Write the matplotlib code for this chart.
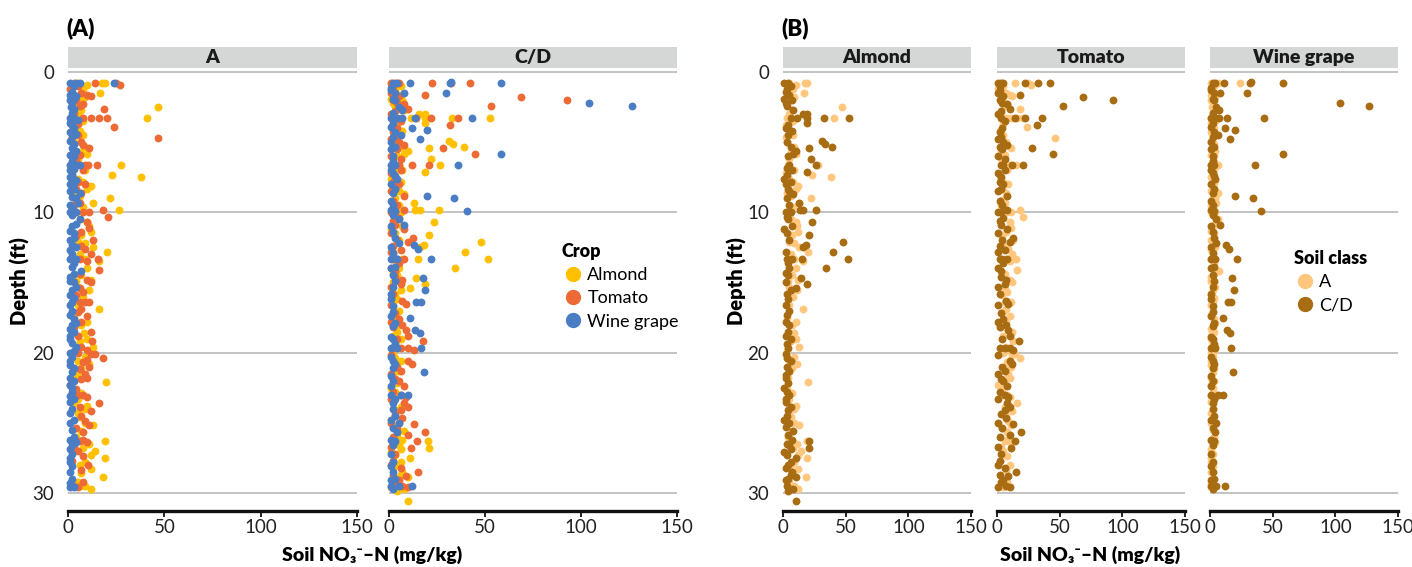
import matplotlib.pyplot as plt
from matplotlib.patches import Rectangle
from matplotlib.lines import Line2D
import numpy as np

plt.rcParams['font.family'] = ['Lato', 'DejaVu Sans']

# data: (depth in ft, soil NO3-N in mg/kg)
almond_a = [(0.8, 5), (0.8, 17.6), (0.8, 19.3), (0.9, 10), (1.5, 16.6), (1.6, 3), (1.8, 9), (2.1, 4),
            (2.5, 46.7), (2.7, 7), (3.3, 41), (3.3, 3), (3.5, 8), (4.2, 6), (4.6, 2), (5.0, 3), (5.3, 9),
            (5.7, 6), (6.2, 5), (6.6, 27.6), (6.9, 3), (7.2, 2), (7.3, 23), (7.5, 38), (7.6, 5), (7.8, 8),
            (8.1, 12), (8.3, 10), (8.6, 3), (9.0, 22), (9.3, 13), (9.8, 26.5), (10.5, 6), (10.7, 10),
            (11.0, 11), (11.4, 12), (12.1, 5), (12.5, 13), (12.8, 20), (13.3, 4), (13.3, 9), (13.5, 16),
            (14.5, 7), (14.8, 12), (15.3, 5), (15.5, 11), (16.9, 16), (17.5, 3), (18.0, 7), (18.6, 8.5),
            (19.0, 10), (19.6, 13), (20.3, 9), (20.6, 5), (21.1, 7), (21.8, 4), (22.1, 19.7), (22.6, 3),
            (23.3, 5), (23.8, 10), (24.3, 5), (24.6, 6), (25.0, 9), (25.2, 13), (26.0, 4), (26.3, 19),
            (26.5, 11), (26.8, 8), (27.0, 14), (27.3, 12), (27.5, 19), (28.0, 6), (28.3, 12), (28.6, 7),
            (28.9, 18), (29.2, 5), (29.5, 6), (29.7, 12),
            (1.2, 8), (2.0, 6), (3.0, 5), (3.8, 2), (4.5, 8), (5.8, 10), (6.6, 4), (7.0, 9), (8.0, 3),
            (8.8, 6), (9.6, 8), (10.0, 4), (11.6, 7), (12.2, 9), (13.0, 6), (14.0, 10), (14.9, 4),
            (16.0, 8), (16.6, 5), (17.8, 10), (19.2, 6), (19.9, 3), (20.8, 11), (21.4, 5), (22.9, 7),
            (23.6, 3), (24.0, 9), (25.6, 7), (27.8, 9), (29.5, 9)]

tomato_a = [(0.8, 3), (0.8, 14), (0.8, 25), (0.9, 27), (1.2, 1), (1.5, 7), (1.6, 10), (1.7, 12), (2.3, 8),
            (2.4, 6), (2.6, 18.5), (2.9, 3), (3.3, 8), (3.3, 12), (3.3, 16), (3.3, 20.5), (3.7, 5),
            (3.9, 24), (4.2, 2), (4.7, 46.5), (5.0, 7), (5.2, 8), (5.6, 3), (5.9, 6), (6.3, 4), (6.6, 9),
            (6.6, 10.5), (6.6, 15), (7.4, 2), (7.8, 5), (8.3, 4), (8.6, 7), (9.1, 4), (9.5, 3), (9.8, 18),
            (10.0, 8), (10.0, 11), (10.3, 21), (10.7, 10), (11.1, 11), (11.7, 4), (12.0, 13), (12.4, 7),
            (13.0, 12), (13.3, 6), (13.3, 15.5), (13.5, 10), (14.1, 16), (14.8, 10), (15.0, 12),
            (15.4, 6), (15.9, 4), (16.4, 6), (16.4, 9), (16.4, 11), (17.1, 5), (17.4, 10), (17.8, 7),
            (18.2, 3), (18.8, 5), (19.2, 12.5), (19.6, 7), (19.8, 10), (20.0, 5), (20.1, 12), (20.1, 14),
            (20.4, 18), (20.7, 8), (21.0, 11), (21.2, 6), (21.5, 9), (21.8, 10), (22.3, 1), (23.0, 5),
            (23.0, 8), (23.2, 10), (23.6, 16), (23.9, 6), (24.5, 7), (24.9, 9), (25.2, 11), (25.4, 4),
            (26.2, 8), (26.3, 6), (26.4, 10), (26.7, 3), (27.0, 5), (27.7, 2), (28.0, 10.5), (29.5, 3),
            (29.6, 5),
            (1.0, 5), (2.0, 4), (4.5, 5), (5.4, 11), (7.0, 8), (8.0, 9), (9.3, 6), (11.4, 7), (12.6, 9),
            (14.4, 6), (15.7, 8), (16.9, 7), (18.5, 12), (20.5, 10), (21.9, 7), (22.6, 4), (24.2, 12),
            (25.7, 8), (27.4, 8), (28.4, 7), (29.2, 8)]

wine_a = [(0.8, 1), (0.8, 4), (0.8, 6), (0.8, 24), (1.4, 2), (1.6, 1), (1.7, 4), (2.2, 2), (2.5, 1.5),
          (2.6, 3), (3.3, 1), (3.3, 3), (3.4, 5), (3.8, 2), (4.3, 1), (4.6, 2), (4.9, 1), (5.1, 3),
          (5.4, 2), (5.9, 1), (6.3, 2), (6.6, 1), (6.6, 4), (6.6, 6), (7.0, 1), (7.3, 2), (7.7, 4),
          (8.0, 1), (8.3, 3), (8.6, 6), (8.9, 2), (9.3, 5), (9.5, 1), (10.0, 1), (10.0, 4), (10.5, 6),
          (11.0, 2), (11.3, 1), (11.8, 3), (12.3, 2), (12.7, 1), (13.3, 1), (13.3, 4), (13.9, 2),
          (14.2, 7), (14.6, 1), (15.0, 3), (15.5, 2), (15.9, 1), (16.4, 2), (17.3, 1), (17.6, 3),
          (18.0, 2), (18.8, 1), (19.3, 2), (19.6, 4), (20.0, 1), (20.3, 2), (20.9, 1), (21.4, 2),
          (22.3, 1), (22.8, 2), (23.1, 1), (23.5, 1), (24.0, 2), (25.0, 1), (26.2, 1), (26.4, 4),
          (26.6, 2), (26.9, 1), (27.5, 1), (28.1, 2), (29.6, 1), (29.6, 3),
          (1.0, 3), (1.9, 3), (2.0, 1), (2.9, 2), (3.6, 1), (4.0, 3), (4.4, 4), (5.6, 4), (6.0, 3),
          (6.9, 3), (7.5, 1), (7.9, 3), (8.5, 1), (9.0, 4), (9.7, 2), (10.2, 2), (10.8, 4), (11.5, 3),
          (12.0, 1), (12.5, 4), (13.0, 2), (13.6, 3), (14.4, 3), (14.9, 1), (15.3, 4), (16.1, 3),
          (16.6, 1), (17.0, 2), (17.9, 4), (18.3, 1), (18.5, 3), (19.0, 1), (19.9, 3), (20.6, 1),
          (21.1, 3), (21.8, 1), (22.0, 3), (22.5, 2), (23.3, 3), (24.3, 1), (24.8, 3), (25.5, 2),
          (26.0, 3), (27.2, 2), (27.8, 1), (28.5, 1), (29.0, 2), (29.3, 1)]

almond_cd = [(0.8, 1), (0.8, 4), (1.4, 2), (1.9, 1), (2.4, 3), (3.0, 15.6), (3.0, 19), (3.3, 11.5),
             (3.3, 19), (3.3, 32.8), (3.3, 52.4), (3.6, 19), (4.0, 2), (4.5, 4), (4.9, 31), (5.1, 33.5),
             (5.3, 39), (5.4, 21), (5.6, 10), (5.8, 8), (6.2, 22), (6.6, 26.7), (6.8, 3), (7.1, 19),
             (7.6, 1), (8.0, 2), (8.5, 5), (9.3, 13), (9.8, 13.5), (9.8, 16), (9.8, 26), (10.3, 3),
             (10.7, 23.5), (11.2, 1), (11.6, 21), (12.1, 47.7), (12.3, 18), (12.5, 16), (12.8, 39.8),
             (13.3, 15), (13.3, 51.6), (13.6, 4), (14.0, 34.4), (14.3, 2), (14.7, 14), (15.1, 19),
             (15.4, 10.7), (15.8, 3), (17.0, 5), (17.8, 2), (18.5, 4), (19.4, 3), (20.1, 2), (20.6, 6),
             (21.0, 3), (21.8, 2), (22.5, 1), (22.8, 3), (23.5, 2), (24.1, 4), (24.8, 1), (25.6, 8),
             (26.3, 20.5), (26.5, 3), (26.8, 21), (26.9, 6), (27.1, 1), (27.5, 10.7), (28.0, 4),
             (28.7, 6), (29.1, 2), (29.9, 4), (30.6, 10),
             (1.0, 6), (1.2, 3), (1.6, 5), (2.0, 7), (2.2, 2), (2.7, 8), (3.3, 6), (3.8, 4), (4.2, 7),
             (5.0, 3), (5.3, 6), (6.0, 4), (6.6, 5), (7.0, 7), (7.3, 3), (7.8, 6), (8.3, 4), (8.7, 8),
             (9.0, 3), (9.5, 5), (10.0, 2), (10.0, 6), (10.5, 4), (11.0, 7), (11.5, 3), (12.0, 5),
             (12.8, 2), (13.3, 3), (13.3, 7), (14.0, 5), (14.5, 4), (15.0, 2), (15.5, 6), (16.2, 4),
             (16.6, 2), (17.3, 3), (18.0, 5), (18.8, 2), (19.0, 6), (19.7, 4), (20.4, 3), (21.3, 5),
             (21.6, 2), (22.2, 4), (23.0, 5), (23.3, 2), (23.9, 6), (24.5, 3), (25.0, 5), (25.3, 2),
             (25.9, 4), (26.2, 7), (26.6, 5), (27.3, 3), (27.8, 6), (28.2, 2), (28.5, 7), (29.0, 4),
             (29.5, 3), (29.7, 8), (28.9, 10)]

tomato_cd = [(0.8, 1), (0.8, 3), (0.8, 5), (0.8, 22.5), (0.8, 32.5), (0.8, 42), (1.3, 2), (1.6, 18.6),
             (1.8, 69), (2.0, 92.7), (2.2, 4), (2.3, 8), (2.4, 53), (2.6, 10), (2.8, 3), (3.3, 22),
             (3.3, 36), (3.5, 6), (3.8, 32), (4.3, 2), (4.6, 3), (5.0, 5), (5.2, 8), (5.4, 28), (5.5, 4),
             (5.8, 44.6), (6.2, 6), (6.6, 12), (6.6, 21), (7.0, 6), (7.5, 3), (8.0, 5), (8.8, 8),
             (9.2, 2), (9.8, 8), (10.4, 5), (10.9, 3), (11.2, 8), (11.8, 12.5), (12.1, 10), (12.4, 2),
             (12.7, 6), (13.3, 8), (13.6, 5), (14.2, 3), (14.8, 7), (15.1, 6), (16.3, 7), (16.5, 9),
             (17.6, 5), (18.0, 7), (18.4, 9), (18.8, 10), (19.2, 17.7), (19.7, 6), (19.7, 10), (19.8, 13),
             (20.6, 10), (20.8, 12), (21.3, 6), (21.9, 3), (22.4, 8), (23.0, 6), (23.2, 9), (23.6, 8),
             (23.9, 10), (24.1, 6), (24.7, 7), (25.1, 13), (25.7, 19), (25.9, 10), (26.3, 14.5),
             (26.8, 11.5), (27.7, 2), (28.2, 6), (28.5, 15), (28.8, 9), (29.1, 5), (29.5, 7), (29.6, 10),
             (1.0, 2), (1.5, 1), (1.7, 5), (2.0, 2), (3.0, 1), (3.3, 3), (3.3, 14), (4.0, 4), (4.8, 1),
             (5.3, 2), (6.0, 1), (6.6, 3), (6.6, 5), (7.2, 1), (7.8, 2), (8.3, 3), (8.5, 1), (9.5, 4),
             (10.0, 1), (10.0, 3), (10.6, 2), (11.5, 1), (12.0, 4), (12.8, 1), (13.3, 2), (13.3, 4),
             (14.0, 1), (14.6, 3), (15.3, 1), (15.8, 2), (16.6, 1), (17.2, 3), (17.8, 1), (18.2, 2),
             (19.0, 4), (19.7, 2), (20.2, 1), (21.0, 4), (21.5, 1), (22.0, 5), (22.8, 2), (23.3, 1),
             (24.4, 3), (25.0, 1), (25.4, 4), (26.0, 2), (26.7, 1), (27.2, 3), (28.0, 1), (28.7, 2),
             (29.2, 3), (29.6, 1)]

wine_cd = [(0.8, 2), (0.8, 4), (0.8, 11), (0.8, 31.6), (0.8, 58.5), (0.7, 32.5), (1.3, 1), (1.5, 3),
           (1.5, 8), (1.5, 29.5), (1.9, 2), (2.2, 104), (2.4, 126.7), (2.5, 5), (2.7, 7), (3.3, 1),
           (3.3, 4), (3.3, 7), (3.3, 13.7), (3.3, 43), (4.0, 12), (4.1, 20), (4.3, 3), (4.5, 6),
           (4.8, 16), (5.0, 1), (5.3, 3), (5.8, 58.3), (6.0, 2), (6.6, 1), (6.6, 3), (6.6, 36),
           (7.2, 2), (7.6, 4), (8.0, 1), (8.3, 3), (8.8, 20), (9.0, 34), (9.5, 2), (9.8, 1), (9.9, 3),
           (9.9, 40.6), (10.5, 5), (10.9, 8), (11.4, 2), (12.2, 5), (12.3, 13), (12.6, 15), (12.9, 2),
           (13.3, 1), (13.3, 4), (13.3, 21.7), (13.9, 3), (14.5, 2), (14.7, 17.5), (15.3, 2),
           (15.5, 19), (16.2, 1), (16.4, 14.2), (16.4, 16.5), (17.1, 2), (17.5, 10.7), (17.9, 3),
           (18.4, 13.4), (18.6, 16), (19.0, 2), (19.7, 1), (19.7, 4), (19.7, 16.5), (20.6, 2),
           (20.8, 3), (21.4, 18.4), (21.7, 1), (22.0, 2), (23.0, 1), (23.0, 6), (23.0, 10), (23.6, 2),
           (24.5, 3), (25.0, 5), (25.7, 4), (26.2, 1), (26.3, 3), (27.8, 2), (28.1, 1), (29.0, 3),
           (29.5, 1), (29.5, 5), (29.5, 12),
           (1.1, 1), (2.0, 3), (2.9, 2), (3.6, 2), (3.9, 1), (4.6, 2), (5.5, 1), (6.3, 2), (7.0, 1),
           (7.4, 3), (8.6, 2), (9.2, 1), (10.2, 2), (11.0, 1), (11.8, 3), (12.5, 1), (14.0, 1),
           (14.9, 3), (15.8, 1), (16.7, 2), (17.4, 1), (18.1, 2), (18.9, 1), (19.4, 3), (20.3, 1),
           (21.1, 2), (22.4, 1), (23.3, 3), (24.0, 2), (24.8, 1), (25.4, 2), (26.6, 2), (27.2, 1),
           (28.5, 2), (29.1, 1), (29.7, 2)]

crops = ['Almond', 'Tomato', 'Wine grape']
soils = ['A', 'C/D']
crop_colors = ['#FFC000', '#EE6A35', '#4A7DC4']
soil_colors = ['#FFC77D', '#A86C12']

data = {
    ('Almond', 'A'): almond_a, ('Tomato', 'A'): tomato_a, ('Wine grape', 'A'): wine_a,
    ('Almond', 'C/D'): almond_cd, ('Tomato', 'C/D'): tomato_cd, ('Wine grape', 'C/D'): wine_cd,
}

W, H = 1412, 567
TOP, BOT = 68, 511
BOLD = 'heavy'
fig = plt.figure(figsize=(W / 100, H / 100), dpi=100)


def panel(x0, x1, title, first):
    ax = fig.add_axes([x0 / W, 1 - BOT / H, (x1 - x0) / W, (BOT - TOP) / H])
    ax.set_xlim(0, 150)
    ax.set_ylim(31.3, -0.3)
    ax.set_xticks([0, 50, 100, 150])
    ax.set_yticks([0, 10, 20, 30])
    ax.grid(axis='y', color='#BEBEBE', lw=1.3)
    ax.set_axisbelow(True)
    for s in ['top', 'left', 'right']:
        ax.spines[s].set_visible(False)
    ax.spines['bottom'].set_linewidth(2.4)
    ax.spines['bottom'].set_color('#111111')
    ax.tick_params(axis='x', length=4, width=1.3, color='#111111', labelsize=13.5,
                   labelcolor='#222222', pad=2)
    ax.tick_params(axis='y', length=0, labelsize=13.5, labelcolor='#222222', pad=10)
    if not first:
        ax.tick_params(axis='y', labelleft=False)
    fig.add_artist(Rectangle((x0 / W, 1 - TOP / H), (x1 - x0) / W, 21 / H,
                             transform=fig.transFigure, facecolor='#D5D6D6', edgecolor='none'))
    fig.text((x0 + x1) / 2 / W, 1 - 57.5 / H, title, ha='center', va='center',
             fontsize=14, fontweight=BOLD, color='#1A1A1A')
    return ax


# (A) facets by soil class, colored by crop
for j, (soil, (x0, x1)) in enumerate(zip(soils, [(68, 357), (389, 677)])):
    ax = panel(x0, x1, soil, j == 0)
    for crop, col in zip(crops, crop_colors):
        pts = np.array(data[(crop, soil)])
        ax.scatter(pts[:, 1], pts[:, 0], s=32, color=col, lw=0, clip_on=False)

# (B) facets by crop, colored by soil class
for j, (crop, (x0, x1)) in enumerate(zip(crops, [(783, 971), (997, 1185), (1210, 1398)])):
    ax = panel(x0, x1, crop, j == 0)
    for soil, col in zip(soils, soil_colors):
        pts = np.array(data[(crop, soil)])
        ax.scatter(pts[:, 1], pts[:, 0], s=32, color=col, lw=0, clip_on=False)

fig.text(66 / W, 1 - 28 / H, '(A)', fontsize=16, fontweight=BOLD, va='center', ha='left')
fig.text(781 / W, 1 - 28 / H, '(B)', fontsize=16, fontweight=BOLD, va='center', ha='left')

xlabel = 'Soil NO\u2083\u207b\u2013N (mg/kg)'
fig.text(372 / W, 1 - 555 / H, xlabel, fontsize=14, fontweight=BOLD, ha='center', va='center')
fig.text(1090 / W, 1 - 555 / H, xlabel, fontsize=14, fontweight=BOLD, ha='center', va='center')
fig.text(20 / W, 1 - 281 / H, 'Depth (ft)', fontsize=14.5, fontweight=BOLD, rotation=90,
         ha='center', va='center')
fig.text(737 / W, 1 - 281 / H, 'Depth (ft)', fontsize=14.5, fontweight=BOLD, rotation=90,
         ha='center', va='center')


def legend(title, labels, colors, x, y):
    handles = [Line2D([], [], marker='o', ls='', color=c, markersize=10) for c in colors]
    leg = fig.legend(handles, labels, title=title, loc='upper left',
                     bbox_to_anchor=(x / W, 1 - y / H), frameon=False, fontsize=13,
                     handletextpad=0.2, labelspacing=0.4, handlelength=1.2, borderpad=0,
                     borderaxespad=0, alignment='left',
                     title_fontproperties={'weight': BOLD, 'size': 13})
    return leg


legend('Crop', crops, crop_colors, 562, 243)
legend('Soil class', soils, soil_colors, 1294, 250)

fig.savefig('out.png', dpi=100)
